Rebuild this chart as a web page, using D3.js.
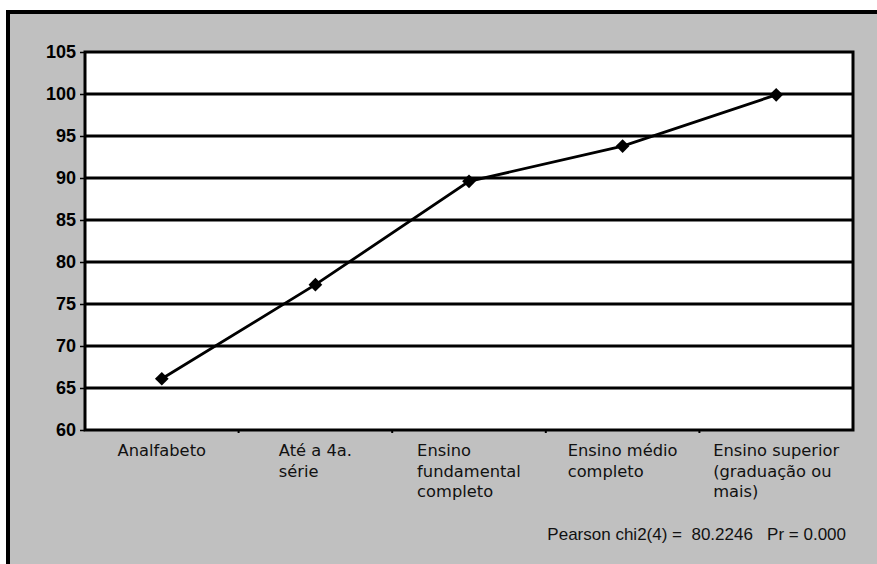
<!DOCTYPE html>
<html>
<head>
<meta charset="utf-8">
<script src="https://cdn.jsdelivr.net/npm/d3@7"></script>
<style>
  body { margin: 0; background: #fff; }
  svg { display: block; }
</style>
</head>
<body>
<script>
// data
var categories = [
    ["Analfabeto"],
    ["Até a 4a.", "série"],
    ["Ensino", "fundamental", "completo"],
    ["Ensino médio", "completo"],
    ["Ensino superior", "(graduação ou", "mais)"]
];
var values = [66.1, 77.3, 89.6, 93.8, 99.9];
var yTicks = [60, 65, 70, 75, 80, 85, 90, 95, 100, 105];
var note = "Pearson chi2(4) =  80.2246   Pr = 0.000";

var width = 877;
var height = 564;
var plot = { left: 85, right: 853, top: 52, bottom: 430 };

var svg = d3.select('body')
    .append('svg')
    .attr('width', width)
    .attr('height', height);

// outer frame
svg.append('rect')
    .attr('x', 8)
    .attr('y', 12)
    .attr('width', width + 10)
    .attr('height', height + 10)
    .attr('fill', '#c0c0c0')
    .attr('stroke', '#000')
    .attr('stroke-width', 4);

var x = d3.scaleBand()
    .domain(d3.range(categories.length))
    .range([plot.left, plot.right]);

var y = d3.scaleLinear()
    .domain([60, 105])
    .range([plot.bottom, plot.top]);

// plot area
svg.append('rect')
    .attr('x', plot.left)
    .attr('y', plot.top)
    .attr('width', plot.right - plot.left)
    .attr('height', plot.bottom - plot.top)
    .attr('fill', '#fff');

// gridlines
svg.append('g')
    .selectAll('line')
    .data(yTicks.slice(1, -1))
    .enter()
    .append('line')
    .attr('x1', plot.left)
    .attr('x2', plot.right)
    .attr('y1', function (d) { return y(d); })
    .attr('y2', function (d) { return y(d); })
    .attr('stroke', '#000')
    .attr('stroke-width', 3);

svg.append('rect')
    .attr('x', plot.left)
    .attr('y', plot.top)
    .attr('width', plot.right - plot.left)
    .attr('height', plot.bottom - plot.top)
    .attr('fill', 'none')
    .attr('stroke', '#000')
    .attr('stroke-width', 3);

// y axis
var yAxis = svg.append('g')
    .attr('transform', 'translate(' + plot.left + ',0)')
    .call(d3.axisLeft(y).tickValues(yTicks).tickSize(5).tickPadding(4));
yAxis.select('.domain').remove();
yAxis.selectAll('line').attr('stroke', '#000').attr('stroke-width', 1.5);
yAxis.selectAll('text')
    .attr('font-family', 'Liberation Sans, Arial, sans-serif')
    .attr('font-size', 18)
    .attr('font-weight', 'bold')
    .attr('fill', '#000');

// x axis ticks at band boundaries
svg.append('g')
    .selectAll('line')
    .data(d3.range(1, categories.length))
    .enter()
    .append('line')
    .attr('x1', function (d) { return x(d); })
    .attr('x2', function (d) { return x(d); })
    .attr('y1', plot.bottom)
    .attr('y2', plot.bottom + 3)
    .attr('stroke', '#000')
    .attr('stroke-width', 2);

// x labels: left-aligned block centred on the band
categories.forEach(function (lines, i) {
    var t = svg.append('text')
        .attr('font-family', 'DejaVu Sans, sans-serif')
        .attr('font-size', 16.3)
        .attr('fill', '#111');
    lines.forEach(function (l, j) {
        t.append('tspan')
            .attr('x', 0)
            .attr('y', 456 + j * 20.5)
            .text(l);
    });
    var w = 0;
    t.selectAll('tspan').each(function () {
        w = Math.max(w, this.getComputedTextLength());
    });
    var cx = x(i) + x.bandwidth() / 2;
    t.selectAll('tspan').attr('x', cx - w / 2);
});

// line
var line = d3.line()
    .x(function (d, i) { return x(i) + x.bandwidth() / 2; })
    .y(function (d) { return y(d); });

svg.append('path')
    .datum(values)
    .attr('d', line)
    .attr('fill', 'none')
    .attr('stroke', '#000')
    .attr('stroke-width', 2.8);

svg.append('g')
    .selectAll('path')
    .data(values)
    .enter()
    .append('path')
    .attr('d', d3.symbol().type(d3.symbolDiamond2).size(120))
    .attr('transform', function (d, i) {
        return 'translate(' + (x(i) + x.bandwidth() / 2) + ',' + y(d) + ')';
    })
    .attr('fill', '#000');

svg.append('text')
    .attr('x', 846)
    .attr('y', 540)
    .attr('text-anchor', 'end')
    .attr('font-family', 'Liberation Sans, Arial, sans-serif')
    .attr('font-size', 17)
    .attr('fill', '#111')
    .style('white-space', 'pre')
    .text(note);
</script>
</body>
</html>
